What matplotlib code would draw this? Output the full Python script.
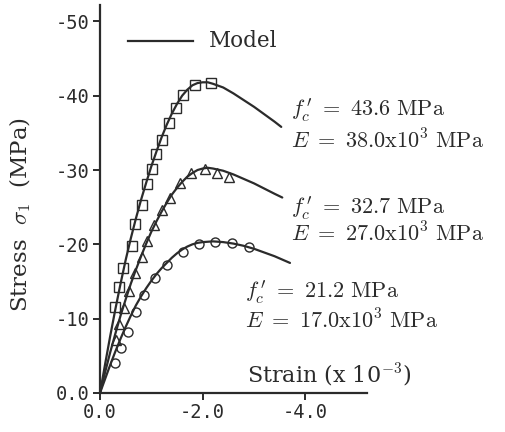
import matplotlib
matplotlib.use("Agg")
import matplotlib.pyplot as plt

plt.rcParams['mathtext.fontset'] = 'cm'

# ---- data ----
# measured points (strain x1e-3, stress MPa)
sq_strain = [-0.29, -0.37, -0.45, -0.62, -0.68, -0.81, -0.91, -1.01, -1.10, -1.20, -1.34, -1.48, -1.62, -1.85, -2.16]
sq_stress = [-11.6, -14.2, -16.8, -19.8, -22.7, -25.3, -28.1, -30.2, -32.1, -34.0, -36.3, -38.3, -40.1, -41.5, -41.7]

tri_strain = [-0.31, -0.37, -0.47, -0.56, -0.68, -0.82, -0.91, -1.05, -1.20, -1.36, -1.55, -1.77, -2.04, -2.27, -2.52]
tri_stress = [-7.1, -9.3, -11.4, -13.7, -16.1, -18.3, -20.4, -22.6, -24.6, -26.3, -28.2, -29.6, -30.2, -29.6, -29.0]

cir_strain = [-0.29, -0.41, -0.55, -0.70, -0.85, -1.07, -1.30, -1.61, -1.92, -2.23, -2.58, -2.90]
cir_stress = [-4.0, -6.0, -8.2, -10.9, -13.2, -15.5, -17.2, -19.0, -20.0, -20.3, -20.2, -19.7]

# model curves
m1_strain = [0.0, -0.1, -0.2, -0.3, -0.4, -0.5, -0.6, -0.7, -0.8, -0.9, -1.0, -1.1, -1.2, -1.3, -1.4,
             -1.5, -1.6, -1.7, -1.8, -1.9, -2.0, -2.1, -2.2, -2.4, -2.6, -2.8, -3.0, -3.2, -3.4, -3.53]
m1_stress = [0.0, -3.9, -7.7, -11.3, -14.7, -17.9, -20.8, -23.5, -26.0, -28.3, -30.5, -32.5, -34.4, -36.1, -37.6,
             -38.9, -40.0, -40.8, -41.4, -41.7, -41.8, -41.8, -41.6, -41.1, -40.3, -39.4, -38.5, -37.5, -36.5, -35.8]

m2_strain = [0.0, -0.1, -0.2, -0.3, -0.4, -0.5, -0.6, -0.7, -0.8, -0.9, -1.0, -1.1, -1.2, -1.3, -1.4,
             -1.5, -1.6, -1.7, -1.8, -1.9, -2.0, -2.1, -2.2, -2.4, -2.6, -2.8, -3.0, -3.2, -3.4, -3.55]
m2_stress = [0.0, -2.8, -5.5, -8.0, -10.4, -12.6, -14.7, -16.6, -18.4, -20.1, -21.7, -23.1, -24.4, -25.6, -26.7,
             -27.6, -28.4, -29.1, -29.6, -30.0, -30.2, -30.3, -30.2, -29.9, -29.4, -28.8, -28.2, -27.5, -26.8, -26.3]

m3_strain = [0.0, -0.1, -0.2, -0.3, -0.4, -0.5, -0.6, -0.7, -0.8, -0.9, -1.0, -1.1, -1.2, -1.3, -1.4,
             -1.5, -1.6, -1.7, -1.8, -1.9, -2.0, -2.2, -2.4, -2.6, -2.8, -3.0, -3.2, -3.4, -3.7]
m3_stress = [0.0, -1.9, -3.8, -5.6, -7.3, -8.9, -10.4, -11.8, -13.0, -14.1, -15.1, -16.0, -16.8, -17.5, -18.2,
             -18.8, -19.3, -19.7, -20.0, -20.2, -20.3, -20.4, -20.3, -20.1, -19.8, -19.4, -18.9, -18.4, -17.5]

x_ticks = [0.0, -2.0, -4.0]
x_tick_labels = ["0.0", "-2.0", "-4.0"]
y_ticks = [0, -10, -20, -30, -40, -50]
y_tick_labels = ["0.0", "-10", "-20", "-30", "-40", "-50"]

labels_fc = [r"$f_c^{\,\prime}\ =\ 43.6\ \mathrm{MPa}$",
             r"$f_c^{\,\prime}\ =\ 32.7\ \mathrm{MPa}$",
             r"$f_c^{\,\prime}\ =\ 21.2\ \mathrm{MPa}$"]
labels_E = [r"$E\ =\ 38.0\mathrm{x}10^3\ \mathrm{MPa}$",
            r"$E\ =\ 27.0\mathrm{x}10^3\ \mathrm{MPa}$",
            r"$E\ =\ 17.0\mathrm{x}10^3\ \mathrm{MPa}$"]

ink = '#2b2b2b'

fig = plt.figure(figsize=(5.05, 4.32), dpi=100)
ax = fig.add_axes([100 / 505, 1 - 393 / 432, 267 / 505, 388 / 432])
ax.set_xlim(0, -5.2)
ax.set_ylim(0, -52.2)

for xs, ys in [(m1_strain, m1_stress), (m2_strain, m2_stress), (m3_strain, m3_stress)]:
    ax.plot(xs, ys, color=ink, lw=1.6, solid_capstyle='round', solid_joinstyle='round', zorder=3)

mk = dict(linestyle='none', markerfacecolor='none', markeredgecolor=ink, markeredgewidth=1.0, zorder=4)
ax.plot(sq_strain, sq_stress, marker='s', markersize=6.5, **mk)
ax.plot(tri_strain, tri_stress, marker='^', markersize=7, **mk)
ax.plot(cir_strain, cir_stress, marker='o', markersize=6.5, **mk)

for s in ['top', 'right']:
    ax.spines[s].set_visible(False)
for s in ['left', 'bottom']:
    ax.spines[s].set_linewidth(1.6)
    ax.spines[s].set_color(ink)

ax.set_xticks(x_ticks)
ax.set_xticklabels(x_tick_labels)
ax.set_yticks(y_ticks)
ax.set_yticklabels(y_tick_labels)
ax.tick_params(axis='both', direction='out', length=5, width=1.4, color=ink,
               labelsize=13.5, labelcolor=ink, pad=2.5)
for lab in ax.get_xticklabels() + ax.get_yticklabels():
    lab.set_family('DejaVu Sans Mono')

# legend drawn as line + text
ax.plot([-0.55, -1.81], [-47.3, -47.3], color=ink, lw=1.6, clip_on=False)
ax.text(-2.12, -47.3, "Model", fontsize=15.5, family='DejaVu Serif', color=ink,
        ha='left', va='center')

# annotations
ann_x = [-3.72, -3.72, -2.82]
ann_y_fc = [-38.0, -24.9, -13.6]
ann_y_E = [-34.0, -21.5, -9.8]
for i in range(3):
    ax.text(ann_x[i], ann_y_fc[i], labels_fc[i], fontsize=16, color=ink,
            ha='left', va='center', clip_on=False)
    ax.text(ann_x[i], ann_y_E[i], labels_E[i], fontsize=16, color=ink,
            ha='left', va='center', clip_on=False)

ax.text(-2.86, -2.4, r"Strain (x 10$^{-3}$)", fontsize=16, family='DejaVu Serif',
        color=ink, ha='left', va='center')

fig.text(20 / 505, 1 - 215 / 432, r"Stress  $\sigma_1$  (MPa)", rotation=90,
         fontsize=16.5, family='DejaVu Serif', color=ink, ha='center', va='center')

fig.savefig("out.png", dpi=100)
